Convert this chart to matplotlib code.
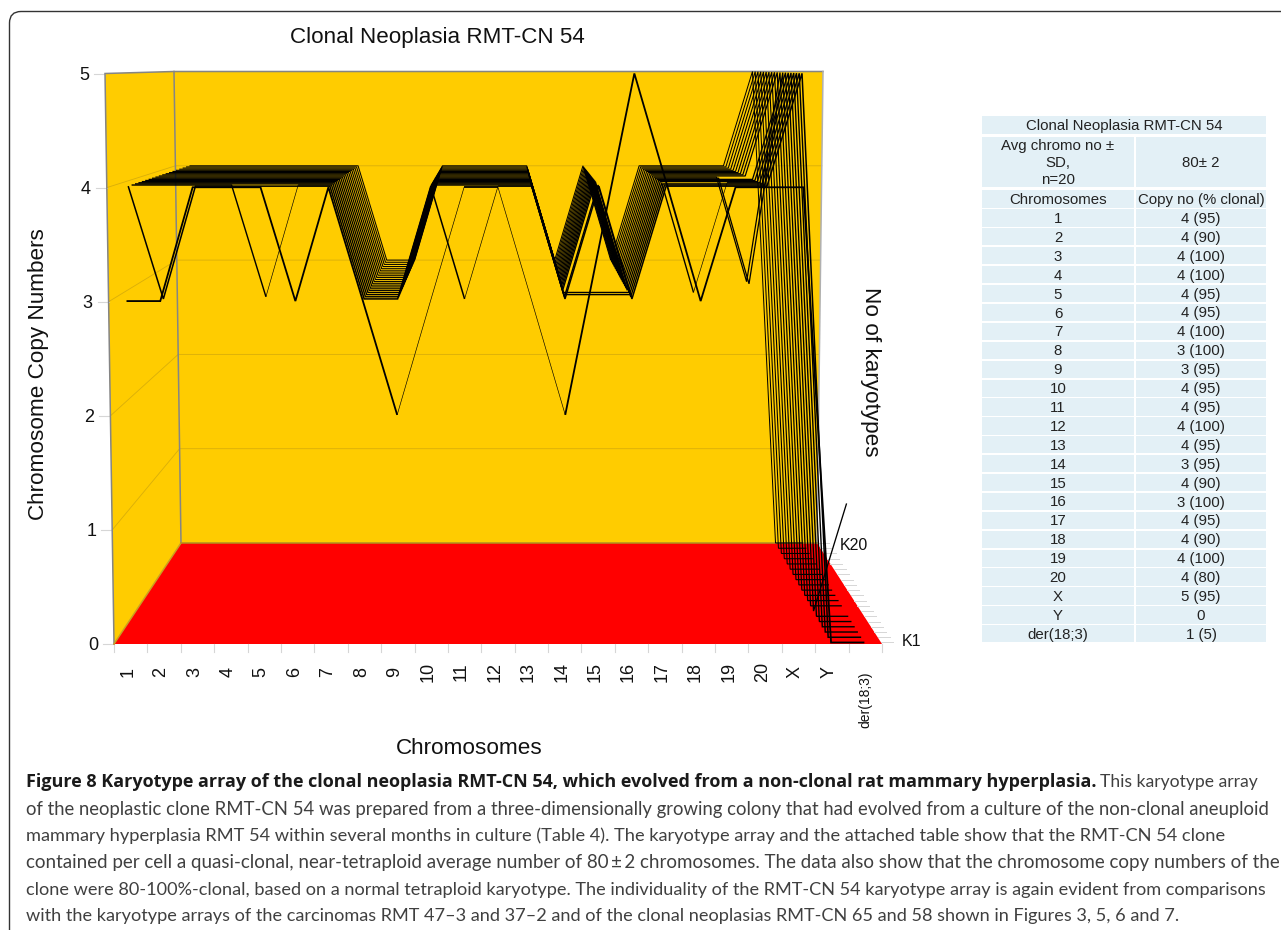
import matplotlib
matplotlib.use("Agg")
import matplotlib.pyplot as plt
from matplotlib.patches import Polygon, Rectangle, PathPatch
from matplotlib.path import Path

CHROMOSOMES = ['1','2','3','4','5','6','7','8','9','10','11','12','13','14','15','16','17','18','19','20','X','Y','der(18;3)']
COPY_TICKS = [0,1,2,3,4,5]

K1  = [3,3,4,4,4,3,4,3,2,3,4,4,3,2,3.5,5,4,3,4,4,4,0,0]
K2  = [4,3,4,4,4,4,4,3,3,4,3,4,4,3,4,3,4,4,4,4,5,0,0]
K3  = [4,4,4,4,3,4,4,3,3,4,4,4,4,3,4,3,4,4,4,4,5,0,0]
K4  = [4,4,4,4,4,4,4,3,3,4,4,4,4,3,3,3,4,4,4,4,5,0,0]
K5  = [4,4,4,4,4,4,4,3,3,4,4,4,4,3,3,3,4,3,4,4,5,0,0]
K6  = [4,4,4,4,4,4,4,3,3,4,4,4,4,3,4,3,4,4,4,4,5,0,0]
K7  = [4,4,4,4,4,4,4,3,3,4,4,4,4,3,4,3,4,4,4,4,5,0,1]
K8  = [4,4,4,4,4,4,4,3,3,4,4,4,4,3,4,3,4,4,4,4,5,0,0]
K9  = [4,4,4,4,4,4,4,3,3,4,4,4,4,3,4,3,4,4,4,3,5,0,0]
K10 = [4,4,4,4,4,4,4,3,3,4,4,4,4,3,4,3,4,4,4,3,5,0,0]
K11 = [4,4,4,4,4,4,4,3,3,4,4,4,4,3,4,3,4,4,4,4,5,0,0]
K12 = [4,4,4,4,4,4,4,3,3,4,4,4,4,3,4,3,4,4,4,4,5,0,0]
K13 = [4,4,4,4,4,4,4,3,3,4,4,4,4,3,4,3,4,4,4,4,5,0,0]
K14 = [4,4,4,4,4,4,4,3,3,4,4,4,4,3,4,3,4,4,4,4,5,0,0]
K15 = [4,4,4,4,4,4,4,3,3,4,4,4,4,3,4,3,4,4,4,4,5,0,0]
K16 = [4,4,4,4,4,4,4,3,3,4,4,4,4,3,4,3,4,4,4,4,5,0,0]
K17 = [4,4,4,4,4,4,4,3,3,4,4,4,4,3,4,3,4,4,4,4,5,0,0]
K18 = [4,4,4,4,4,4,4,3,3,4,4,4,4,3,4,3,4,4,4,4,5,0,0]
K19 = [4,4,4,4,4,4,4,3,3,4,4,4,4,3,4,3,4,4,4,4,5,0,0]
K20 = [4,4,4,4,4,4,4,3,3,4,4,4,4,3,4,3,4,4,4,4,5,0,0]
KARYOTYPES = [K1,K2,K3,K4,K5,K6,K7,K8,K9,K10,K11,K12,K13,K14,K15,K16,K17,K18,K19,K20]

TABLE_CHROM = CHROMOSOMES
TABLE_COPY = ['4 (95)','4 (90)','4 (100)','4 (100)','4 (95)','4 (95)','4 (100)','3 (100)','3 (95)','4 (95)','4 (95)','4 (100)',
              '4 (95)','3 (95)','4 (90)','3 (100)','4 (95)','4 (90)','4 (100)','4 (80)','5 (95)','0','1 (5)']

CAPTION_BOLD = "Figure 8 Karyotype array of the clonal neoplasia RMT-CN 54, which evolved from a non-clonal rat mammary hyperplasia."
CAPTION_LINES = [
    "This karyotype array",
    "of the neoplastic clone RMT-CN 54 was prepared from a three-dimensionally growing colony that had evolved from a culture of the non-clonal aneuploid",
    "mammary hyperplasia RMT 54 within several months in culture (Table 4). The karyotype array and the attached table show that the RMT-CN 54 clone",
    "contained per cell a quasi-clonal, near-tetraploid average number of 80\u2009\u00b1\u20092 chromosomes. The data also show that the chromosome copy numbers of the",
    "clone were 80-100%-clonal, based on a normal tetraploid karyotype. The individuality of the RMT-CN 54 karyotype array is again evident from comparisons",
    "with the karyotype arrays of the carcinomas RMT 47\u20133 and 37\u20132 and of the clonal neoplasias RMT-CN 65 and 58 shown in Figures 3, 5, 6 and 7.",
]

SANS = 'Liberation Sans'
GOLD, RED, GRID, EDGE, TICK = '#FFCC00', '#FF0000', '#D9AE0A', '#858585', '#D6D6D6'
W, H = 1281, 931

fig = plt.figure(figsize=(W/100, H/100), dpi=100)
ax = fig.add_axes([0, 0, 1, 1])
ax.set_xlim(0, W); ax.set_ylim(H, 0); ax.axis('off')

def lerp(a, b, t):
    return a + (b - a) * t

def project(u, v, w):
    """u: 0-1 across chromosomes, v: 0-1 front to back, w: 0-1 height."""
    xl = lerp(lerp(114, 105, w), lerp(181, 174, w), v)
    xr = lerp(lerp(882, 891, w), lerp(817, 823, w), v)
    y0 = lerp(644, 543, v)
    y1 = lerp(73.5, 71.5, v)
    return xl + (xr - xl) * u, lerp(y0, y1, w)

n = len(CHROMOSOMES)
cu = lambda i: (i + 0.5) / n
kv = lambda k: 0.015 + 0.985 * k / (len(KARYOTYPES) - 1)

# walls and floor
corners = lambda pts: [project(*p) for p in pts]
ax.add_patch(Polygon(corners([(0,0,0),(0,0,1),(0,1,1),(0,1,0)]), fc=GOLD, ec='none', zorder=1))
ax.add_patch(Polygon(corners([(0,1,0),(0,1,1),(1,1,1),(1,1,0)]), fc=GOLD, ec='none', zorder=1))
ax.add_patch(Polygon(corners([(0,0,0),(1,0,0),(1,1,0),(0,1,0)]), fc=RED, ec='none', zorder=1))

# grid
for c in COPY_TICKS[1:-1]:
    w = c / 5
    a, b, d = project(0,0,w), project(0,1,w), project(1,1,w)
    ax.plot([a[0], b[0], d[0]], [a[1], b[1], d[1]], color=GRID, lw=0.6, zorder=2)

# wall edges
for pts, col in [([(0,0,0),(0,0,1),(0,1,1),(1,1,1)], EDGE), ([(0,1,1),(0,1,0)], EDGE),
                 ([(1,1,1),(1,1,0)], '#B0B0B0'), ([(0,0,0),(0,1,0)], '#C9A020'),
                 ([(0,1,0),(1,1,0)], '#B09020')]:
    p = corners(pts)
    ax.plot([q[0] for q in p], [q[1] for q in p], color=col, lw=1.1, zorder=2.5, solid_joinstyle='miter')

# ticks
for c in COPY_TICKS:
    x, y = project(0, 0, c / 5)
    ax.plot([x - 11, x], [y, y], color=TICK, lw=0.8, zorder=2)
    ax.text(x - 16, y + 1.5, str(c), ha='right', va='center', family=SANS, fontsize=13, color='#111111')
for i in range(n + 1):
    x, y = project(i / n, 0, 0)
    ax.plot([x, x], [y, y + 8], color=TICK, lw=0.8, zorder=2)
for i, lab in enumerate(CHROMOSOMES):
    x, y = project(cu(i), 0, 0)
    if i == n - 1:
        ax.text(x, 700, lab, rotation=90, ha='center', va='center', family=SANS, fontsize=10, color='#111111')
    else:
        ax.text(x - 3, 672, lab, rotation=90, ha='center', va='center', family=SANS, fontsize=13, color='#111111')
for k in range(len(KARYOTYPES)):
    x, y = project(1, kv(k), 0)
    ax.plot([x, x + 12], [y, y], color=TICK, lw=0.7, zorder=2)
ax.text(902, 641, 'K1', ha='left', va='center', family=SANS, fontsize=11.5, color='#111111')
ax.text(840, 545, 'K20', ha='left', va='center', family=SANS, fontsize=11.5, color='#111111')

# segments drawn thin: karyotype index -> segment starts
THIN = {0: [8, 9, 11, 12], 1: [10], 2: [4], 4: [17]}

for k in range(len(KARYOTYPES) - 1, -1, -1):
    vals = KARYOTYPES[k]
    xs, ys = zip(*[project(cu(i), kv(k), vals[i] / 5) for i in range(n)])
    base = 1.3 if k == 0 else (1.1 if k < 2 else lerp(1.05, 0.72, k / 19))
    zo = 3 + (20 - k) * 0.01
    thin = THIN.get(k, [])
    start = 0
    for i in range(n - 1):
        if i in thin:
            if i > start:
                ax.plot(xs[start:i + 1], ys[start:i + 1], color='black', lw=base, zorder=zo,
                        solid_joinstyle='miter', solid_capstyle='butt')
            ax.plot(xs[i:i + 2], ys[i:i + 2], color='black', lw=0.45, zorder=zo, solid_capstyle='butt')
            start = i + 1
    ax.plot(xs[start:], ys[start:], color='black', lw=base, zorder=zo, solid_joinstyle='miter', solid_capstyle='butt')

# labels
ax.text(437, 37, 'Clonal Neoplasia RMT-CN 54', ha='center', va='center', family=SANS, fontsize=16.1, color='#111111')
ax.text(39, 374, 'Chromosome Copy Numbers', rotation=90, ha='center', va='center', family=SANS, fontsize=16.2, color='#111111')
ax.text(469, 748, 'Chromosomes', ha='center', va='center', family=SANS, fontsize=16.2, color='#111111')
ax.text(871, 372, 'No of karyotypes', rotation=270, ha='center', va='center', family=SANS, fontsize=16.2, color='#111111')

# table
CELL = '#E3F0F6'
LX0, LX1, RX0, RX1 = 982, 1134, 1136, 1266
def cell(x0, x1, y0, y1):
    ax.add_patch(Rectangle((x0, y0), x1 - x0, y1 - y0, fc=CELL, ec='none', zorder=1))
def ttext(x, y, s):
    ax.text(x, y + 1, s, ha='center', va='center', family=SANS, fontsize=10.8, color='#222222')
LC, RC = (LX0 + LX1) / 2, (RX0 + RX1) / 2
cell(LX0, RX1, 116, 134); ttext((LX0 + RX1) / 2, 125, 'Clonal Neoplasia RMT-CN 54')
cell(LX0, LX1, 137, 187); cell(RX0, RX1, 137, 187)
for yy, s in [(145, 'Avg chromo no \u00b1'), (162, 'SD,'), (179, 'n=20')]:
    ttext(LC, yy, s)
ttext(RC, 162, '80\u00b1 2')
cell(LX0, LX1, 190, 208); cell(RX0, RX1, 190, 208)
ttext(LC, 199, 'Chromosomes'); ttext(RC, 199, 'Copy no (% clonal)')
for i, (a, b) in enumerate(zip(TABLE_CHROM, TABLE_COPY)):
    yc = 218 + 18.9 * i
    cell(LX0, LX1, yc - 8.6, yc + 8.6); cell(RX0, RX1, yc - 8.6, yc + 8.6)
    ttext(LC, yc, a); ttext(RC, yc, b)

# caption
fig.canvas.draw()
r = fig.canvas.get_renderer()
CAP_FONT, CAP_COL = 'Lato', '#404040'
CAP_X = 25.5
line_base = [787, 814.5, 841, 868, 894.5, 921]
line_end = [1258, 1272, 1232, 1274, 1273, 1187]

def fitted(x0, x1, y, s, **kw):
    size = 13.0
    t = ax.text(x0, y, s, ha='left', va='baseline', fontsize=size, **kw)
    for _ in range(3):
        size *= (x1 - x0) / t.get_window_extent(r).width
        t.set_fontsize(size)
    return t

fitted(CAP_X, 1094, line_base[0], CAPTION_BOLD, family='Open Sans', weight='bold', color='#1A1A1A')
fitted(1100, line_end[0], line_base[0], CAPTION_LINES[0], family=CAP_FONT, color=CAP_COL)
for yy, xe, s in zip(line_base[1:], line_end[1:], CAPTION_LINES[1:]):
    fitted(CAP_X, xe, yy, s, family=CAP_FONT, color=CAP_COL)

# frame
fr = Path([(W + 5, 11.5), (21, 11.5), (9.5, 11.5), (9.5, 23), (9.5, 930)],
          [Path.MOVETO, Path.LINETO, Path.CURVE3, Path.CURVE3, Path.LINETO])
ax.add_patch(PathPatch(fr, fc='none', ec='#333333', lw=1.0, zorder=5))

fig.savefig('out.png', dpi=100)
